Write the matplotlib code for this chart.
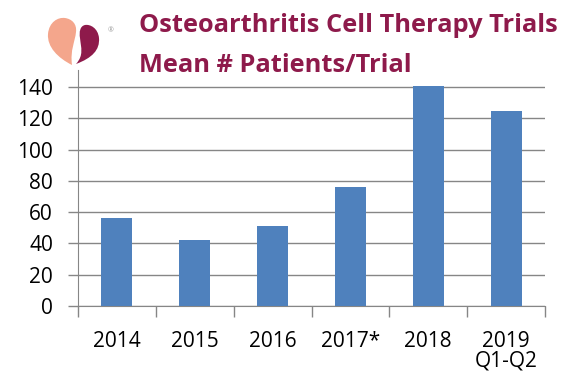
import numpy as np
import matplotlib.pyplot as plt
from matplotlib.path import Path
from matplotlib.patches import PathPatch

years = ['2014', '2015', '2016', '2017*', '2018', '2019\nQ1-Q2']
mean_patients = [56, 42, 51, 76, 141, 125]
yticks = [0, 20, 40, 60, 80, 100, 120, 140]

bar_color = '#4F81BD'
title_color = '#8E1A4B'
grid_color = '#868686'

plt.rcParams['font.family'] = ['Open Sans', 'DejaVu Sans']

fig = plt.figure(figsize=(5.75, 3.75), dpi=100)
ax = fig.add_axes([78/575, 69/375, 467/575, 236/375])

x = np.arange(len(years))
ax.bar(x, mean_patients, width=0.4, color=bar_color, zorder=3)
ax.set_xlim(-0.5, len(years) - 0.5)
ax.set_ylim(0, 151)
ax.set_yticks(yticks)
ax.tick_params(axis='y', labelsize=15, length=7, width=1, color=grid_color, pad=11)
ax.grid(axis='y', color=grid_color, linewidth=1, zorder=0)

# category labels centered, tick marks on boundaries
ax.set_xticks(np.arange(len(years) + 1) - 0.5)
ax.set_xticklabels([])
ax.tick_params(axis='x', length=8, width=1, color=grid_color)
ax.set_xticks(x, minor=True)
ax.set_xticklabels(years, minor=True, fontsize=15, linespacing=0.9, va='top')
ax.tick_params(axis='x', which='minor', length=0, pad=18)

for s in ['top', 'right']:
    ax.spines[s].set_visible(False)
for s in ['left', 'bottom']:
    ax.spines[s].set_color(grid_color)

fig.text(139/575, 1 - 32/375, 'Osteoarthritis Cell Therapy Trials', color=title_color,
         fontsize=18.3, fontweight='bold', va='baseline', ha='left')
fig.text(139/575, 1 - 72/375, 'Mean # Patients/Trial', color=title_color,
         fontsize=18.3, fontweight='bold', va='baseline', ha='left')

# logo
lax = fig.add_axes([40/575, 1 - 72/375, 80/575, 67/375])
lax.set_xlim(40, 120)
lax.set_ylim(72, 5)
lax.axis('off')
C = Path.CURVE4
peach = Path([(72, 65), (58, 58), (47, 47), (48, 34), (49, 22), (58, 17), (65, 18),
              (72, 19), (77, 24), (76, 32), (75, 42), (70, 50), (72, 65)],
             [Path.MOVETO] + [C] * 12)
maroon = Path([(76, 64), (92, 58), (100, 50), (99, 38), (98, 28), (90, 24), (85, 25),
               (80, 26), (79, 32), (80, 38), (81, 48), (84, 55), (76, 64)],
              [Path.MOVETO] + [C] * 12)
lax.add_patch(PathPatch(peach, facecolor='#F4A68C', edgecolor='none'))
lax.add_patch(PathPatch(maroon, facecolor='#8E1A4B', edgecolor='none'))
lax.text(111, 31, '®', fontsize=5, color='#999999', ha='center', va='center')

fig.savefig('out.png', dpi=100)
